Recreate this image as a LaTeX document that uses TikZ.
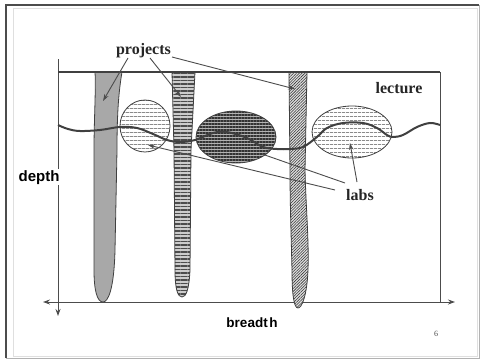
\documentclass[tikz,border=0pt]{standalone}
\usepackage{fontspec}
\setmainfont{Liberation Serif}
\newfontfamily\sansfam{Liberation Sans}
\usetikzlibrary{arrows.meta,patterns.meta,shapes.geometric}
\begin{document}
\begin{tikzpicture}[x=1pt,y=-1pt,
  ink/.style={draw=black!75, line width=0.8pt},
  ptr/.style={draw=black!70, line width=0.9pt, -{Stealth[length=7pt,width=4.5pt]}},
  plainptr/.style={draw=black!70, line width=0.9pt},
  axisline/.style={draw=black!70, line width=0.9pt},
  serlab/.style={font=\fontsize{16}{16}\selectfont\bfseries, text=black!85, anchor=base, inner sep=0pt},
  sanslab/.style={font=\sansfam\bfseries, text=black, anchor=base, inner sep=1pt},
  stipple/.style={ink, preaction={fill=gray!65}, pattern={Dots[distance=2pt,radius=0.45pt]}, pattern color=black!50},
  stripes/.style={ink, preaction={fill=gray!40}, pattern={Lines[distance=3.5pt,line width=1.3pt]}, pattern color=black!70},
  hatch/.style={ink, preaction={fill=gray!25}, pattern={Lines[angle=45,distance=2pt,line width=0.55pt]}, pattern color=black!80},
  lablight/.style={ellipse, ink, inner sep=0pt, preaction={fill=white}, pattern={Lines[distance=4pt,line width=0.6pt]}, pattern color=black!70},
  labdark/.style={ellipse, ink, inner sep=0pt, preaction={fill=gray!60}, pattern={Lines[distance=3pt,line width=1.3pt]}, pattern color=black!80},
  wave/.style={draw=black!75, line width=2pt}
]
\useasboundingbox (0,0) rectangle (483,364);
\fill[white] (0,0) rectangle (483,364);
% slide frame
\draw[gray!25, line width=1pt] (13,8) rectangle (477,356);
\draw[gray!60, line width=1pt] (479,5) -- (479,358) -- (6,358);
\draw[black!70, line width=1.2pt] (6,358) -- (6,5) -- (479,5);

% axes
\coordinate (yTop) at (58,59);
\coordinate (yBot) at (58,316);
\coordinate (xL) at (43,302);
\coordinate (xR) at (455,302);
\draw[axisline, -{Stealth[length=7pt,width=5pt]}] (yTop) -- (yBot);
\draw[axisline, {Stealth[length=7pt,width=5pt]}-{Stealth[length=7pt,width=5pt]}] (xL) -- (xR);

% lecture box right side
\coordinate (boxTL) at (58,72);
\coordinate (boxTR) at (440,72);
\coordinate (boxBR) at (440,302);
\draw[axisline] (boxTR) -- (boxBR);

% projects
\path[stipple] (95,72) -- (122,72) .. controls (119,90) and (117,110) .. (117,150)
  -- (115,250) .. controls (114,290) and (108,302) .. (103,302)
  .. controls (97,302) and (94,290) .. (94,270) -- (94,150)
  .. controls (94,120) and (96,90) .. (95,72) -- cycle;
\path[stripes] (172,72) -- (195,72) -- (191,150) -- (190,270)
  .. controls (189,290) and (186,297) .. (182,297)
  .. controls (178,297) and (175,290) .. (175,270) -- (174,150) -- cycle;
\path[hatch] (289,72) -- (307,72) -- (305,170)
  .. controls (306,210) and (309,240) .. (308,270)
  .. controls (307,295) and (302,308) .. (298,308)
  .. controls (294,308) and (292,295) .. (292,270)
  .. controls (291,230) and (290,200) .. (290,170) -- cycle;

% lecture top line
\draw[wave] (boxTL) -- (boxTR);

% labs
\node[lablight, minimum width=50pt, minimum height=52pt] (labA) at (145,126) {};
\node[labdark, minimum width=80pt, minimum height=52pt] (labB) at (236,137) {};
\node[lablight, minimum width=80pt, minimum height=52pt] (labC) at (352,132) {};

% lecture boundary wave
\draw[wave] plot[smooth, tension=0.6] coordinates {(58,125) (68,129) (80,131) (100,130) (120,127) (137,128) (153,134) (167,140) (180,142) (195,140) (213,133) (227,132) (247,138) (263,147) (277,149) (290,149) (303,147) (317,137) (327,128) (343,123) (363,123) (377,128) (387,135) (393,137) (403,135) (417,127) (430,123) (440,125)};

% texts
\node[serlab] (projects) at (143.5,55) {projects};
\node[serlab] (lecture) at (399,93) {lecture};
\node[serlab] (labs) at (360,200) {labs};
\node[sanslab, font=\sansfam\bfseries\fontsize{15}{15}\selectfont, fill=white] (depth) at (39,181) {depth};
\node[sanslab, font=\sansfam\bfseries\fontsize{13.5}{13.5}\selectfont] (breadth) at (252,327) {breadt\kern1.5pt h};
\node[font=\fontsize{8}{8}\selectfont, text=black!70, inner sep=0pt] (pagenum) at (436,334) {6};

% pointers from "projects"
\coordinate (pj1) at (128,58);
\coordinate (pj2) at (150,58);
\coordinate (pj3) at (172,57);
\coordinate (t1) at (103,101);
\coordinate (t2) at (181,97);
\coordinate (t3) at (295,89);
\draw[ptr] (pj1) -- (t1);
\draw[ptr] (pj2) -- (t2);
\draw[ptr] (pj3) -- (t3);

% pointers from "labs"
\coordinate (lb1) at (345,183);
\coordinate (lb2) at (335,190);
\coordinate (lb3) at (357,182);
\coordinate (tB) at (262,154);
\coordinate (tA) at (148,145);
\coordinate (tC) at (350,143);
\draw[plainptr] (lb1) -- (tB);
\draw[ptr] (lb2) -- (tA);
\draw[ptr] (lb3) -- (tC);
\end{tikzpicture}
\end{document}
